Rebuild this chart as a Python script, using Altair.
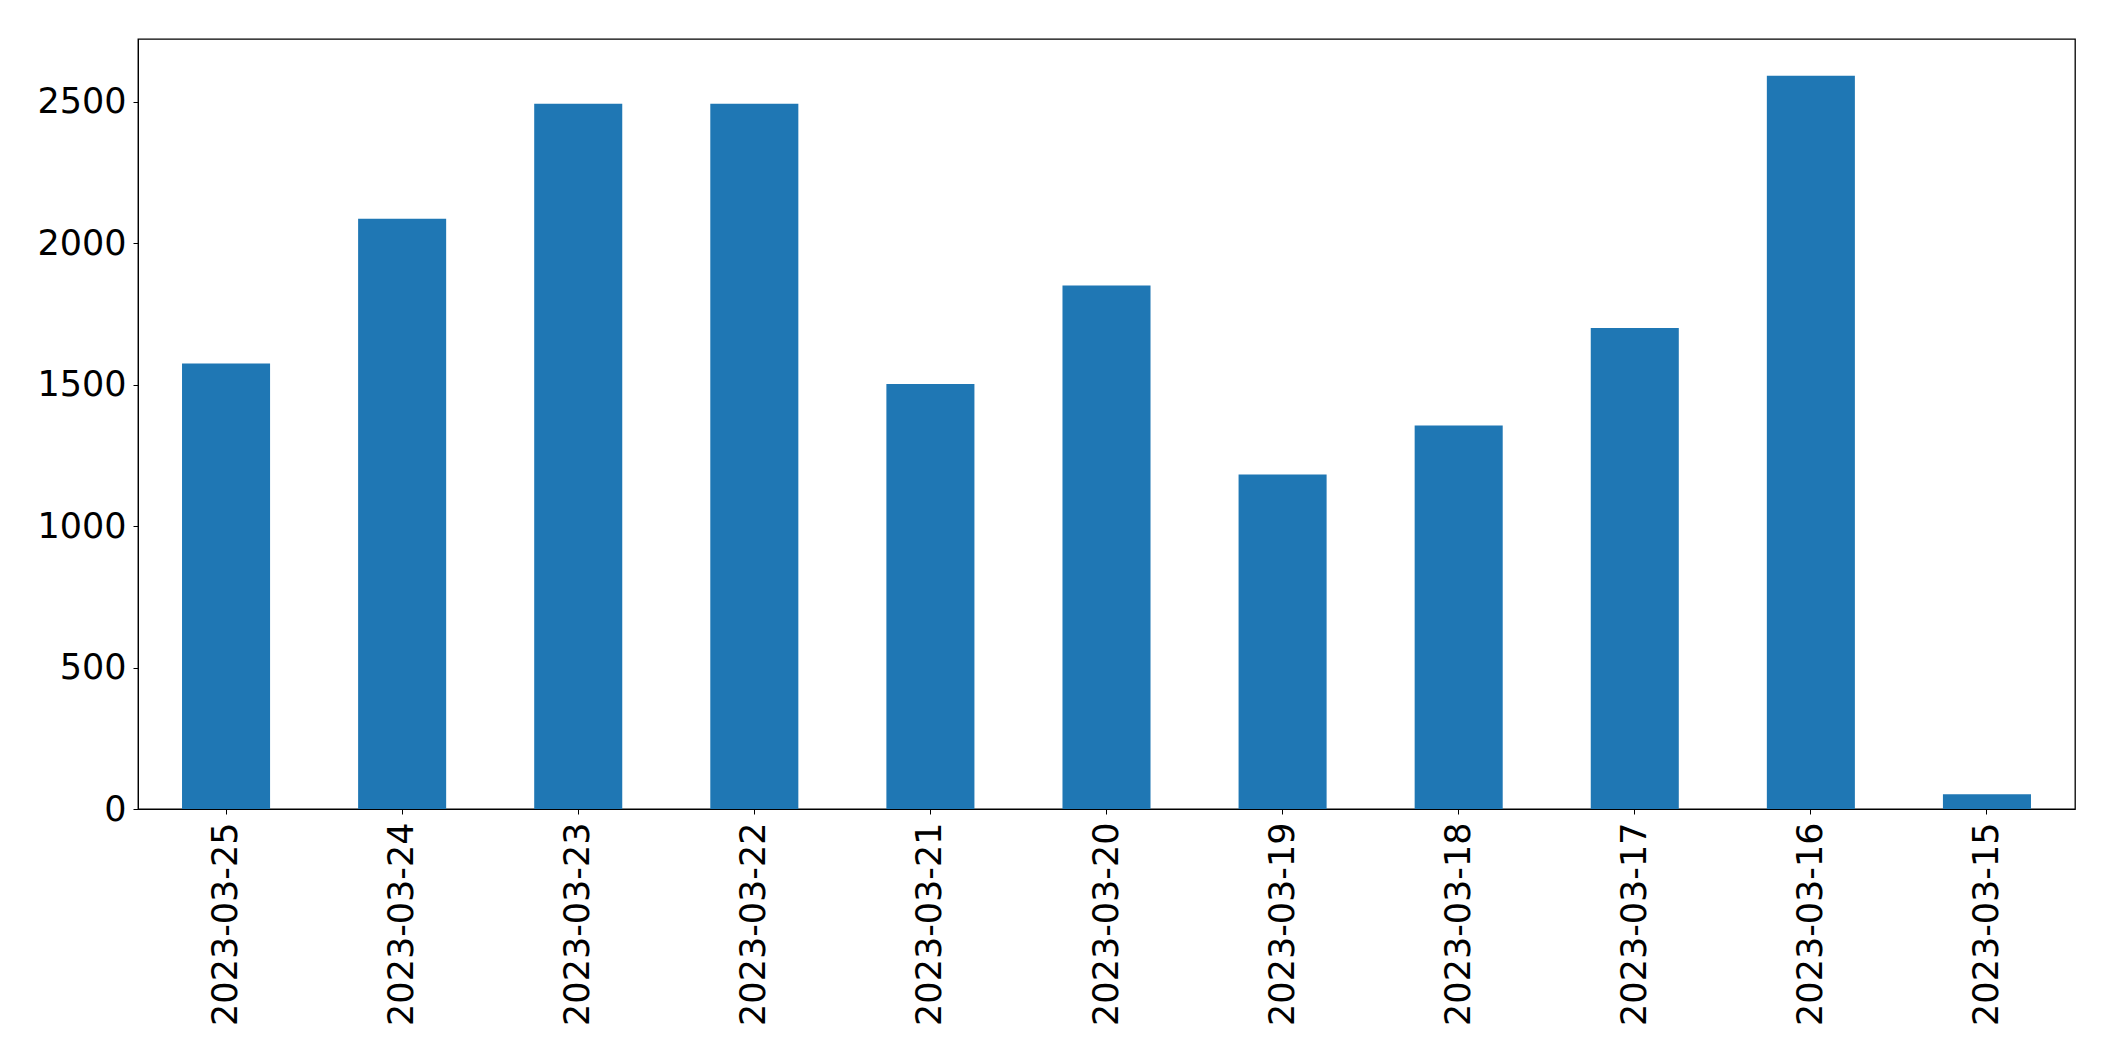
import altair as alt
import pandas as pd

dates = ["2023-03-25", "2023-03-24", "2023-03-23", "2023-03-22", "2023-03-21",
         "2023-03-20", "2023-03-19", "2023-03-18", "2023-03-17", "2023-03-16",
         "2023-03-15"]
counts = [1575, 2087, 2494, 2494, 1503, 1851, 1183, 1356, 1701, 2593, 52]
y_ticks = [0, 500, 1000, 1500, 2000, 2500]

df = pd.DataFrame({"date": dates, "count": counts})
ymax = max(counts) * 1.05

chart = alt.Chart(df).mark_bar(color="#1f77b4").encode(
    x=alt.X("date:N", sort=dates, title=None,
            scale=alt.Scale(paddingInner=0.5, paddingOuter=0.25),
            axis=alt.Axis(labelAngle=-90, labelFontSize=35, labelFont="DejaVu Sans",
                          labelColor="black", tickColor="black", domainColor="black",
                          tickSize=5, labelPadding=8, labelBaseline="middle",
                          labelAlign="right", labelLimit=0)),
    y=alt.Y("count:Q", title=None,
            scale=alt.Scale(domain=[0, ymax], nice=False, zero=True),
            axis=alt.Axis(values=y_ticks, grid=False, labelFontSize=35, format="d",
                          labelFont="DejaVu Sans", labelColor="black",
                          tickColor="black", domainColor="black", tickSize=5,
                          labelPadding=7)),
).properties(
    width=1937, height=770,
    background="white",
    autosize=alt.AutoSizeParams(type="none"),
    padding={"left": 130, "top": 31, "right": 30, "bottom": 240},
).configure_view(stroke="black", strokeWidth=1.3)

chart.save("out.html", embed_options={"renderer": "svg", "actions": False})
